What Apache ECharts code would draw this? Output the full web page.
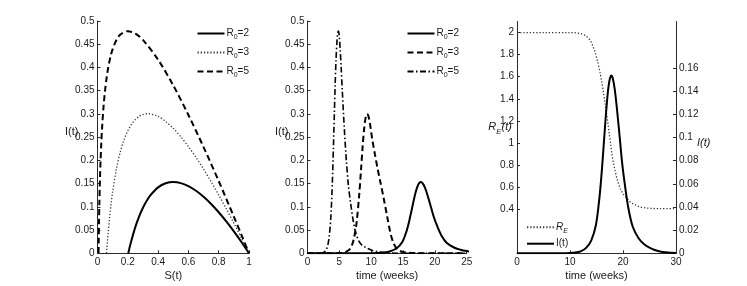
<!DOCTYPE html>
<html>
<head>
<meta charset="utf-8">
<script src="https://cdn.jsdelivr.net/npm/echarts@6/dist/echarts.min.js"></script>
<style>
html,body{margin:0;padding:0;background:#fff;}
#c{width:747px;height:286px;}
</style>
</head>
<body>
<div id="c"></div>
<script>
// ---------- Panel 1: I vs S ----------
var s_R2 = [0.2032, 0.205, 0.21, 0.22, 0.25, 0.275, 0.3, 0.325, 0.35, 0.4, 0.45, 0.5, 0.55, 0.6, 0.65, 0.7, 0.75, 0.8, 0.85, 0.9, 0.95, 1.0];
var i_R2 = [0, 0.0027, 0.0097, 0.0229, 0.0569, 0.0795, 0.098, 0.113, 0.1251, 0.1419, 0.1507, 0.1534, 0.1511, 0.1446, 0.1346, 0.1217, 0.1062, 0.0884, 0.0687, 0.0473, 0.0244, 0];
var s_R3 = [0.0595, 0.062, 0.065, 0.07, 0.08, 0.09, 0.1, 0.125, 0.15, 0.175, 0.2, 0.225, 0.25, 0.275, 0.3, 0.333, 0.4, 0.45, 0.5, 0.55, 0.6, 0.65, 0.7, 0.75, 0.8, 0.85, 0.9, 0.95, 1.0];
var i_R3 = [0, 0.0111, 0.0239, 0.0436, 0.0781, 0.1073, 0.1325, 0.1819, 0.2176, 0.2440, 0.2635, 0.2778, 0.2879, 0.2947, 0.2987, 0.3005, 0.2946, 0.2838, 0.2690, 0.2507, 0.2297, 0.2064, 0.1811, 0.1541, 0.1256, 0.0958, 0.0649, 0.0329, 0];
var s_R5 = [0.007, 0.008, 0.01, 0.0125, 0.015, 0.0175, 0.02, 0.025, 0.03, 0.04, 0.05, 0.06, 0.07, 0.085, 0.1, 0.125, 0.15, 0.2, 0.25, 0.3, 0.4, 0.5, 0.6, 0.7, 0.8, 0.9, 0.95, 1.0];
var i_R5 = [0.0006, 0.0263, 0.069, 0.1111, 0.1451, 0.1734, 0.1976, 0.2372, 0.2687, 0.3162, 0.3509, 0.3773, 0.3982, 0.422, 0.4395, 0.4591, 0.4706, 0.4781, 0.4727, 0.4592, 0.4167, 0.3614, 0.2978, 0.2287, 0.1554, 0.0789, 0.0397, 0];

// ---------- Panel 2/3: I(t) in weeks ----------
var t_R2 = [0, 5, 8, 9, 10, 11, 12, 13, 14, 14.89, 15.54, 15.96, 16.28, 16.56, 16.81, 17.05, 17.29, 17.54, 17.8, 18.09, 18.43, 18.85, 19.42, 19.88, 20.42, 21.05, 21.84, 23, 24, 25, 26, 27, 28, 29, 30];
var I_R2 = [0, 0, 0.00002, 0.00007, 0.0002, 0.0006, 0.0017, 0.0045, 0.011, 0.0244, 0.0473, 0.0687, 0.0884, 0.1062, 0.1217, 0.1346, 0.1446, 0.1511, 0.1534, 0.1507, 0.1419, 0.1251, 0.098, 0.0762, 0.0569, 0.038, 0.0229, 0.0125, 0.0078, 0.0048, 0.0028, 0.0016, 0.0009, 0.0005, 0.0003];
var t_R3 = [0, 4, 5, 5.5, 6, 6.5, 6.77, 7.0, 7.31, 7.7, 8.12, 8.41, 8.66, 8.9, 9.17, 9.37, 9.55, 9.8, 10.16, 10.6, 11.0, 11.45, 11.97, 12.5, 13.0, 13.5, 14.06, 14.5, 15, 16, 17, 18, 20, 25];
var I_R3 = [0, 0.00006, 0.0004, 0.001, 0.003, 0.007, 0.011, 0.018, 0.033, 0.065, 0.126, 0.181, 0.23, 0.269, 0.295, 0.300, 0.296, 0.280, 0.246, 0.212, 0.183, 0.153, 0.118, 0.080, 0.045, 0.022, 0.009, 0.005, 0.003, 0.001, 0.0004, 0.0002, 0, 0];
var t_R5 = [0, 1.5, 2.0, 2.25, 2.5, 2.75, 3.0, 3.2, 3.44, 3.67, 3.91, 4.07, 4.21, 4.34, 4.48, 4.64, 4.73, 4.84, 4.96, 5.13, 5.29, 5.46, 5.78, 6.11, 6.43, 6.77, 7.19, 7.6, 8.07, 8.6, 9.37, 10.1, 10.93, 12, 13, 15, 20, 25];
var I_R5 = [0, 0.00007, 0.00035, 0.0008, 0.0018, 0.0041, 0.0093, 0.018, 0.0397, 0.0789, 0.1554, 0.2287, 0.2978, 0.3614, 0.4167, 0.4592, 0.4727, 0.4781, 0.4706, 0.4395, 0.3982, 0.3509, 0.2687, 0.1976, 0.1451, 0.108, 0.069, 0.043, 0.026, 0.017, 0.011, 0.0065, 0.0036, 0.0014, 0.0006, 0.0001, 0, 0];

// ---------- Panel 3: effective reproduction number ----------
var t_RE = [0, 5, 10, 11, 12, 13, 13.8, 14.3, 14.75, 15.2, 15.7, 16.0, 16.3, 16.6, 16.95, 17.2, 17.44, 17.7, 17.9, 18.2, 18.5, 18.9, 19.45, 20.0, 20.7, 21.5, 22.3, 23.2, 24.5, 25.7, 27, 30];
var RE = [2, 2, 2, 1.998, 1.99, 1.97, 1.93, 1.88, 1.82, 1.74, 1.63, 1.55, 1.46, 1.36, 1.25, 1.16, 1.07, 0.98, 0.9, 0.82, 0.75, 0.67, 0.59, 0.54, 0.5, 0.46, 0.44, 0.42, 0.41, 0.406, 0.404, 0.404];

// tick labels
var xTicks1 = [0, 0.2, 0.4, 0.6, 0.8, 1];
var reTicks = [0.4, 0.6, 0.8, 1, 1.2, 1.4, 1.6, 1.8, 2];
var iTicks3 = [0, 0.02, 0.04, 0.06, 0.08, 0.1, 0.12, 0.14, 0.16];

function pairs(xs, ys) { return xs.map(function (x, k) { return [x, ys[k]]; }); }

var FONT = "'Liberation Sans', Arial, Helvetica, sans-serif";
var AX = '#2a2a2a';
var TXT = '#1a1a1a';

function xAxis(gi, min, max, interval, name) {
  return {
    type: 'value', gridIndex: gi, min: min, max: max, interval: interval,
    name: name, nameLocation: 'middle', nameGap: 17, nameMoveOverlap: false,
    nameTextStyle: { fontFamily: FONT, fontSize: 11, color: TXT },
    axisLine: { show: true, lineStyle: { color: AX, width: 1 } },
    axisTick: { show: true, inside: true, length: 3, lineStyle: { color: AX } },
    axisLabel: { fontFamily: FONT, fontSize: 10, color: TXT, margin: 4 },
    splitLine: { show: false }
  };
}
function yAxis(gi, opt) {
  var o = {
    type: 'value', gridIndex: gi,
    nameLocation: 'middle', nameRotate: 0, nameMoveOverlap: false,
    nameTextStyle: { fontFamily: FONT, fontSize: 11, color: TXT },
    axisLine: { show: true, lineStyle: { color: AX, width: 1 } },
    axisTick: { show: true, inside: true, length: 3, lineStyle: { color: AX } },
    axisLabel: { fontFamily: FONT, fontSize: 10, color: TXT, margin: 3 },
    splitLine: { show: false }
  };
  for (var k in opt) {
    if (typeof opt[k] === 'object' && o[k] && !Array.isArray(opt[k])) {
      for (var j in opt[k]) o[k][j] = opt[k][j];
    } else o[k] = opt[k];
  }
  return o;
}

var richLeg = {
  n: { fontFamily: FONT, fontSize: 10, color: TXT },
  s: { fontFamily: FONT, fontSize: 7, color: TXT, padding: [7, 0, 0, 0] },
  ni: { fontFamily: FONT, fontSize: 10, color: TXT, fontStyle: 'italic' },
  si: { fontFamily: FONT, fontSize: 7, color: TXT, fontStyle: 'italic', padding: [7, 0, 0, 0] }
};
var legText = {
  'a2': '{n|R}{s|0}{n|=2}', 'a3': '{n|R}{s|0}{n|=3}', 'a5': '{n|R}{s|0}{n|=5}',
  'b2': '{n|R}{s|0}{n|=2}', 'b3': '{n|R}{s|0}{n|=3}', 'b5': '{n|R}{s|0}{n|=5}',
  'cRE': '{ni|R}{si|E}', 'cI': '{n|I(t)}'
};
function legend(data, left, top, gap) {
  return {
    data: data, orient: 'vertical', left: left, top: top,
    itemWidth: 27, itemHeight: 10, itemGap: gap, padding: 0,
    selectedMode: false,
    itemStyle: { opacity: 0, borderWidth: 0 },
    formatter: function (nm) { return legText[nm]; },
    textStyle: { rich: richLeg, padding: [0, 0, 0, -3] }
  };
}

var solid = { color: '#000', width: 2, type: 'solid' };
var dashed = { color: '#000', width: 2, type: [6, 3.5] };
var dotted = { color: '#3a3a3a', width: 1.3, type: [1.3, 1.9] };
var dashdot = { color: '#000', width: 1.6, type: [6, 2.5, 1.5, 2.5] };

function line(name, xi, yi, data, style) {
  return { name: name, type: 'line', xAxisIndex: xi, yAxisIndex: yi, data: data,
    symbol: 'none', showSymbol: false, smooth: 0.3, lineStyle: style,
    itemStyle: { color: style.color },
    z: 3, silent: true };
}

var chart = echarts.init(document.getElementById('c'), null, { renderer: 'canvas' });
chart.setOption({
  animation: false,
  backgroundColor: '#fff',
  grid: [
    { left: 97.5, top: 21, width: 151.5, height: 232.3, containLabel: false, outerBoundsMode: 'none' },
    { left: 307.5, top: 21, width: 159.2, height: 232.3, containLabel: false, outerBoundsMode: 'none' },
    { left: 517, top: 21.5, width: 159, height: 231.8, containLabel: false, outerBoundsMode: 'none' }
  ],
  xAxis: [
    xAxis(0, 0, 1, 0.2, 'S(t)'),
    xAxis(1, 0, 25, 5, 'time (weeks)'),
    xAxis(2, 0, 30, 10, 'time (weeks)')
  ],
  yAxis: [
    yAxis(0, { min: 0, max: 0.5, interval: 0.05, name: 'I(t)', nameGap: 19,
      nameTextStyle: { verticalAlign: 'bottom' } }),
    yAxis(1, { min: 0, max: 0.5, interval: 0.05, name: 'I(t)', nameGap: 19,
      nameTextStyle: { verticalAlign: 'bottom' } }),
    yAxis(2, { min: 0, max: 2.1, name: '{i|R}{s|E}{i|(t)}', nameGap: 5,
      nameTextStyle: { padding: [0, 0, 20, 0], rich: {
        i: { fontFamily: FONT, fontSize: 11, fontStyle: 'italic', color: TXT },
        s: { fontFamily: FONT, fontSize: 8, fontStyle: 'italic', color: TXT, padding: [8, 0, 0, 0] } } },
      axisLabel: { customValues: reTicks },
      axisTick: { customValues: reTicks } }),
    yAxis(2, { min: 0, max: 0.2, position: 'right', name: 'I(t)', nameGap: 21,
      nameTextStyle: { fontStyle: 'italic', verticalAlign: 'top' },
      axisLabel: { customValues: iTicks3 },
      axisTick: { customValues: iTicks3 } })
  ],
  legend: [
    legend(['a2', 'a3', 'a5'], 196.5, 28.5, 7),
    legend(['b2', 'b3', 'b5'], 406.5, 28.5, 7),
    legend(['cRE', 'cI'], 526, 222.3, 4.4)
  ],
  series: [
    line('a2', 0, 0, pairs(s_R2, i_R2), solid),
    line('a3', 0, 0, pairs(s_R3, i_R3), dotted),
    line('a5', 0, 0, pairs(s_R5, i_R5), dashed),
    line('b2', 1, 1, pairs(t_R2, I_R2), solid),
    line('b3', 1, 1, pairs(t_R3, I_R3), dashed),
    line('b5', 1, 1, pairs(t_R5, I_R5), dashdot),
    line('cRE', 2, 2, pairs(t_RE, RE), dotted),
    line('cI', 2, 3, pairs(t_R2, I_R2), solid)
  ]
});
</script>
</body>
</html>
